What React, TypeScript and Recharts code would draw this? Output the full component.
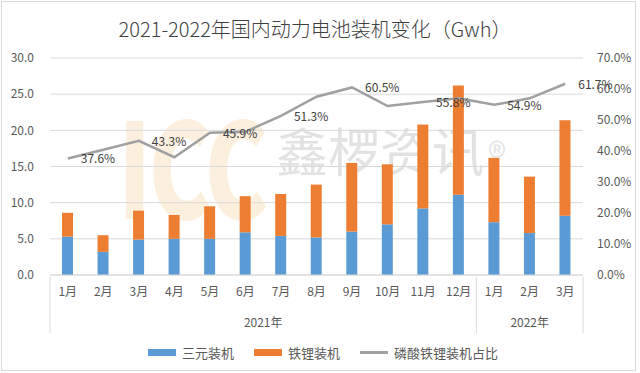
import { ComposedChart, Bar, Line, XAxis, YAxis, CartesianGrid, LabelList } from "recharts"

const months = ["1月", "2月", "3月", "4月", "5月", "6月", "7月", "8月", "9月", "10月", "11月", "12月", "1月", "2月", "3月"]
const years = ["2021年", "2022年"]
const ternary = [5.3, 3.2, 4.9, 5.0, 5.0, 5.9, 5.4, 5.2, 6.0, 7.0, 9.2, 11.1, 7.3, 5.8, 8.2]
const lfp = [3.3, 2.3, 4.0, 3.3, 4.5, 5.0, 5.8, 7.3, 9.5, 8.3, 11.6, 15.1, 8.9, 7.8, 13.2]
const ratio = [37.6, 40.4, 43.3, 38.0, 45.9, 46.2, 51.3, 57.5, 60.5, 54.5, 55.8, 57.0, 54.9, 57.0, 61.7]
const leftTicks = [0, 5, 10, 15, 20, 25, 30]
const rightTicks = [0, 10, 20, 30, 40, 50, 60, 70]

const data = months.map((m, i) => ({
	id: i,
	month: m,
	ternary: ternary[i],
	lfp: lfp[i],
	ratio: ratio[i],
}))

const W = 640
const H = 373
const margin = { top: 58, left: 10, right: 7, bottom: 38 }
const leftW = 40
const rightW = 50
const plotW = W - margin.left - margin.right - leftW - rightW
const band = plotW / months.length
const font = '"Noto Sans CJK SC", "Noto Sans", sans-serif'
const axisGray = "#d9d9d9"
const textGray = "#595959"

// second level of the category axis: year groups plus divider lines
function YearTick(props: any) {
	const { x, y, index } = props
	const half = band / 2
	const lines: number[] = []
	if (index === 0) lines.push(x - half)
	if (index === 11 || index === 14) lines.push(x + half)
	let label: string | null = null
	let lx = x
	if (index === 5) {
		label = years[0]
		lx = x + half
	}
	if (index === 13) label = years[1]
	return (
		<g>
			{lines.map((lx2) => (
				<line key={lx2} x1={lx2} x2={lx2} y1={y - 30} y2={y + 26} stroke={axisGray} strokeWidth={1} />
			))}
			{label && (
				<text x={lx} y={y + 20} textAnchor="middle" fontSize={12} fill={textGray} fontFamily={font}>
					{label}
				</text>
			)}
		</g>
	)
}

function RatioLabel(props: any) {
	const { x, y, index, value } = props
	if (index % 2 !== 0) return null
	return (
		<text x={x + 13} y={y + 5} fontSize={12} fill="#404040" fontFamily={font}>
			{value.toFixed(1)}%
		</text>
	)
}

function LegendItem({ color, label, line }: { color: string; label: string; line?: boolean }) {
	return (
		<div style={{ display: "flex", alignItems: "center", marginRight: 20 }}>
			<div style={{ width: 28, height: line ? 3 : 7, background: color, marginRight: 6 }} />
			<span style={{ fontSize: 13, color: textGray }}>{label}</span>
		</div>
	)
}

export default function App() {
	return (
		<div style={{ position: "relative", width: W, height: H, fontFamily: font, background: "#fff", overflow: "hidden" }}>
			<style>{"body{margin:0}"}</style>
			<div style={{ position: "absolute", left: 1, top: 1, width: 633, height: 368, border: `1px solid ${axisGray}` }} />
			{/* watermark */}
			<div style={{ position: "absolute", left: 118, top: 96, fontSize: 132, fontWeight: 900, color: "rgba(246,210,160,0.35)", transform: "scaleX(0.72)", transformOrigin: "left top", lineHeight: 1, letterSpacing: -4 }}>
				ICC
			</div>
			<div style={{ position: "absolute", left: 276, top: 124, fontSize: 52, color: "rgba(160,160,160,0.3)", lineHeight: 1 }}>
				鑫椤资讯
			</div>
			<div style={{ position: "absolute", left: 488, top: 136, fontSize: 38, color: "rgba(160,160,160,0.3)", lineHeight: 1 }}>
				®
			</div>
			<div style={{ position: "absolute", top: 14, width: 630, textAlign: "center", fontSize: 20, color: "#404040", fontWeight: 300 }}>
				2021-2022年国内动力电池装机变化（Gwh）
			</div>
			<div style={{ position: "absolute", left: 0, top: 0 }}>
				<ComposedChart width={W} height={H} data={data} margin={margin}>
					<CartesianGrid vertical={false} stroke={axisGray} xAxisId="m" yAxisId="left" />
					<XAxis
						xAxisId="m"
						dataKey="id"
						interval={0}
						tickFormatter={(v: number) => months[v]}
						height={30}
						stroke={axisGray}
						tickLine={false}
						tickSize={0}
						tickMargin={12}
						tick={{ fontSize: 12, fill: textGray, fontFamily: font }}
					/>
					<XAxis
						xAxisId="y"
						dataKey="id"
						interval={0}
						height={30}
						axisLine={false}
						tickLine={false}
						tickSize={0}
						tick={<YearTick />}
					/>
					<YAxis
						yAxisId="left"
						width={leftW}
						domain={[0, 30]}
						ticks={leftTicks}
						tickFormatter={(v: number) => v.toFixed(1)}
						axisLine={false}
						tickLine={false}
						tickSize={0}
						tickMargin={16}
						tick={{ fontSize: 12, fill: textGray, fontFamily: font }}
					/>
					<YAxis
						yAxisId="right"
						orientation="right"
						width={rightW}
						domain={[0, 70]}
						ticks={rightTicks}
						tickFormatter={(v: number) => v.toFixed(1) + "%"}
						axisLine={false}
						tickLine={false}
						tickSize={0}
						tickMargin={14}
						tick={{ fontSize: 12, fill: textGray, fontFamily: font, textAnchor: "start" }}
					/>
					<Bar dataKey="ternary" stackId="a" xAxisId="m" yAxisId="left" fill="#5b9bd5" barSize={11} isAnimationActive={false} />
					<Bar dataKey="lfp" stackId="a" xAxisId="m" yAxisId="left" fill="#ed7d31" barSize={11} isAnimationActive={false} />
					<Line
						dataKey="ratio"
						xAxisId="m"
						yAxisId="right"
						type="linear"
						stroke="#a0a0a0"
						strokeWidth={2.5}
						dot={false}
						isAnimationActive={false}
					>
						<LabelList dataKey="ratio" content={<RatioLabel />} />
					</Line>
				</ComposedChart>
			</div>
			<div style={{ position: "absolute", left: 148, top: 343, display: "flex", alignItems: "center" }}>
				<LegendItem color="#5b9bd5" label="三元装机" />
				<LegendItem color="#ed7d31" label="铁锂装机" />
				<LegendItem color="#a0a0a0" label="磷酸铁锂装机占比" line />
			</div>
		</div>
	)
}
